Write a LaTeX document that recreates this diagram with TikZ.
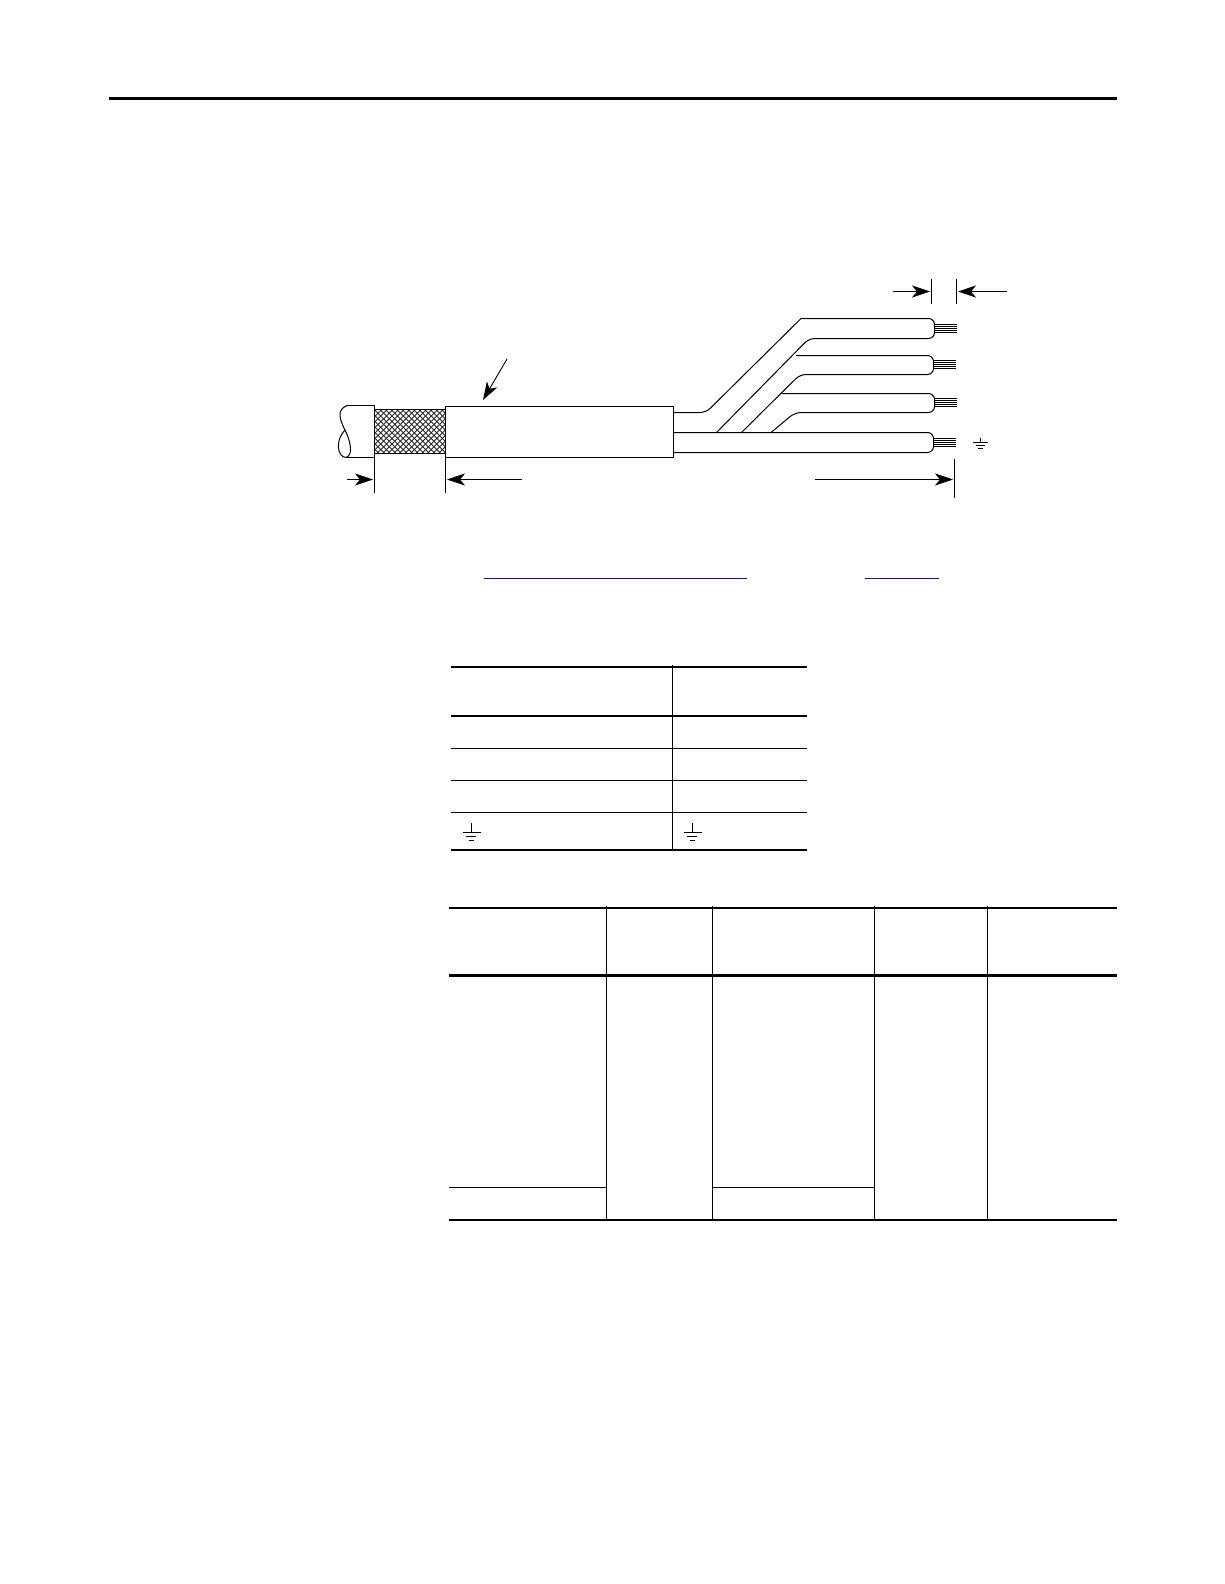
\documentclass[tikz,border=0pt]{standalone}
\usetikzlibrary{arrows.meta}
\definecolor{linkblue}{RGB}{20,20,150}
\tikzset{
  wire/.style={line width=1pt, line join=round},
  strand/.style={line width=1pt},
  dimline/.style={line width=1pt},
  dimarrow/.style={line width=0.9pt, -{Stealth[length=18pt,width=12pt,inset=5pt]}},
  thickrule/.style={line width=2.2pt},
  thinrule/.style={line width=1pt},
  linkrule/.style={line width=1.1pt, color=linkblue}
}
\begin{document}
\begin{tikzpicture}[x=1pt,y=-1pt]
    \useasboundingbox (0,0) rectangle (1224,1584);

    % Page rule
    \draw[line width=3pt] (109,98.5) -- (1117,98.5);

    % Braided shield
    \begin{scope}
        \clip (374.5,409.5) rectangle (445.5,453.5);
        \foreach \i in {0,5.6,...,130} {
            \draw[line width=0.9pt,black!85] (320+\i,400) -- (320+\i+60,460);
            \draw[line width=0.9pt,black!85] (320+\i,460) -- (320+\i+60,400);
        }
    \end{scope}
    \draw[wire] (374.5,409.5) -- (445.5,409.5);
    \draw[wire] (374.5,453.5) -- (445.5,453.5);

    % Cable end with break
    \draw[wire] (347,405.5) -- (374.5,405.5) -- (374.5,457.5) -- (346,457.5);
    \draw[wire] (347,405.5) .. controls (336,410) and (340,420) .. (345,430)
        .. controls (350,440) and (354,455) .. (346,457.5)
        .. controls (337,457) and (335,440) .. (345,430);

    % Outer jacket
    \draw[wire] (445.5,406.5) rectangle (673.5,457.5);

    % Wires
    \draw[wire, rounded corners=6pt] (673.5,412.5) -- (706,412.5) [sharp corners] -- (801,318.5) [rounded corners=6pt] -- (934.5,318.5) -- (934.5,338.5) -- (809,338.5) -- (716.5,432.5);
    \draw[wire, rounded corners=6pt] (796,355.5) -- (933.5,355.5) -- (933.5,374.5) -- (800,374.5) -- (741.5,432.5);
    \draw[wire, rounded corners=6pt] (781.5,393.5) -- (934.5,393.5) -- (934.5,412.5) -- (795,412.5) -- (771,432.5);
    \draw[wire, rounded corners=6pt] (673.5,432.5) -- (933.5,432.5) -- (933.5,452.5) -- (673.5,452.5);

    % Strands
    \foreach \y in {324.5,326.5,...,334} \draw[strand] (934,\y) -- (956.5,\y);
    \foreach \y in {360.5,362.5,...,370} \draw[strand] (933.5,\y) -- (955.5,\y);
    \foreach \y in {398.5,400.5,...,408} \draw[strand] (934,\y) -- (956.5,\y);
    \foreach \y in {438.5,440.5,...,448} \draw[strand] (933,\y) -- (955.5,\y);

    % Dimension lines
    \draw[dimarrow] (507,359) -- (483,400);
    \draw[dimline] (931.5,279) -- (931.5,303.5);
    \draw[dimline] (956.5,279) -- (956.5,303.5);
    \draw[dimarrow] (892.7,291.5) -- (930,291.5);
    \draw[dimarrow] (1006.7,291.5) -- (958,291.5);
    \draw[dimline] (374.5,457.5) -- (374.5,493);
    \draw[dimline] (445.5,457.5) -- (445.5,493);
    \draw[dimarrow] (346.7,479.5) -- (373,479.5);
    \draw[dimarrow] (522,479.5) -- (447,479.5);
    \draw[dimarrow] (815,479.5) -- (953,479.5);
    \draw[dimline] (954.5,459) -- (954.5,497.5);

    % Ground symbols: x, y, stem, half bar, gap
    \foreach \gx/\gy/\gs/\gb/\gg in {980.5/437.5/5/7.5/3, 471.5/822.5/10/9/4, 692.5/822.5/10/9/4} {
        \draw[thinrule] (\gx,\gy) -- (\gx,\gy+\gs);
        \draw[thinrule] (\gx-\gb,\gy+\gs) -- (\gx+\gb,\gy+\gs);
        \draw[thinrule] (\gx-0.6*\gb,\gy+\gs+\gg) -- (\gx+0.55*\gb,\gy+\gs+\gg);
        \draw[thinrule] (\gx-0.33*\gb,\gy+\gs+2*\gg) -- (\gx+0.3*\gb,\gy+\gs+2*\gg);
    }

    % Underlined links
    \draw[linkrule] (484,578.5) -- (746.7,578.5);
    \draw[linkrule] (865,578.5) -- (939,578.5);

    % First table
    \draw[thickrule] (451,667) -- (807,667);
    \draw[thickrule] (451,716) -- (807,716);
    \foreach \y in {748.5,780.5,812.5} \draw[thinrule] (451,\y) -- (807,\y);
    \draw[thickrule] (451,850) -- (807,850);
    \draw[thinrule] (672.5,665) -- (672.5,850);

    % Second table
    \draw[thickrule] (448.5,908) -- (1117,908);
    \draw[thickrule] (448.5,975.5) -- (1117,975.5);
    \draw[thinrule] (448.5,1187.5) -- (606.5,1187.5);
    \draw[thinrule] (712.5,1187.5) -- (874.5,1187.5);
    \draw[thickrule] (448.5,1220) -- (1117,1220);
    \foreach \x in {606.5,712.5,874.5,987.5} \draw[thinrule] (\x,906) -- (\x,1220);
\end{tikzpicture}
\end{document}
